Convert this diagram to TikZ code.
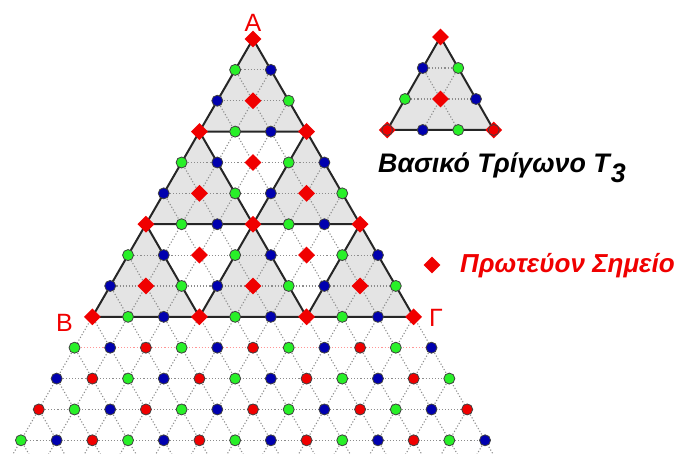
\documentclass[tikz,border=0pt]{standalone}
\usepackage{fontspec}
\setmainfont{Liberation Sans}
\usetikzlibrary{shapes.geometric}
\definecolor{dotgreen}{RGB}{40,240,40}
\definecolor{dotblue}{RGB}{0,0,175}
\definecolor{dotred}{RGB}{240,0,0}
\definecolor{shadegray}{RGB}{228,228,228}
\definecolor{gridgray}{RGB}{140,140,140}
\definecolor{pinkline}{RGB}{255,150,150}
\begin{document}
\begin{tikzpicture}[x=1pt,y=-1pt,
  gridline/.style={gridgray, line width=1.1pt, dash pattern=on 1.1pt off 2pt},
  pinkgrid/.style={pinkline, line width=1.1pt, dash pattern=on 1.1pt off 2pt},
  edge/.style={black!85, line width=2pt, line join=round},
  upfill/.style={fill=shadegray},
  dotbase/.style={circle, draw=black!75, line width=0.8pt, minimum size=11pt, inner sep=0pt},
  gdot/.style={dotbase, fill=dotgreen},
  bdot/.style={dotbase, fill=dotblue},
  rdot/.style={dotbase, fill=dotred},
  rdia/.style={diamond, fill=dotred, minimum size=17pt, inner sep=0pt},
  lbl/.style={text=dotred, inner sep=0pt, anchor=base, font=\fontsize{25}{30}\selectfont}
]
\useasboundingbox (0,0) rectangle (681,454);

% ---------- main lattice coordinates ----------
\foreach \n in {0,...,13}{
  \foreach \k in {0,...,\n}{
    \coordinate (p-\n-\k) at ({253+(\k-\n/2)*35.7},{39+\n*30.87});
  }
}
\foreach \k in {0,...,13}{
  \coordinate (eL-\k) at ({253+(\k-6.725)*35.7},{39+13.45*30.87});
  \coordinate (eR-\k) at ({253+(6.725-\k)*35.7},{39+13.45*30.87});
}

% ---------- shaded up-triangles ----------
\fill[upfill] (p-0-0) -- (p-3-0) -- (p-3-3) -- cycle;
\fill[upfill] (p-3-0) -- (p-6-0) -- (p-6-3) -- cycle;
\fill[upfill] (p-3-3) -- (p-6-3) -- (p-6-6) -- cycle;
\fill[upfill] (p-6-0) -- (p-9-0) -- (p-9-3) -- cycle;
\fill[upfill] (p-6-3) -- (p-9-3) -- (p-9-6) -- cycle;
\fill[upfill] (p-6-6) -- (p-9-6) -- (p-9-9) -- cycle;

% ---------- dotted lattice lines ----------
\foreach \n in {1,...,9,11,12,13}{
  \draw[gridline] (p-\n-0) -- (p-\n-\n);
}
\draw[pinkgrid] (p-10-0) -- (p-10-10);
\foreach \k in {0,...,13}{
  \draw[gridline] (p-\k-\k) -- (eL-\k);
  \draw[gridline] (p-\k-0) -- (eR-\k);
}

% ---------- solid edges ----------
\draw[edge] (p-0-0) -- (p-3-0) -- (p-3-3) -- cycle;
\draw[edge] (p-3-0) -- (p-6-0) -- (p-6-3) -- cycle;
\draw[edge] (p-3-3) -- (p-6-3) -- (p-6-6) -- cycle;
\draw[edge] (p-6-0) -- (p-9-0) -- (p-9-3) -- cycle;
\draw[edge] (p-6-3) -- (p-9-3) -- (p-9-6) -- cycle;
\draw[edge] (p-6-6) -- (p-9-6) -- (p-9-9) -- cycle;

% ---------- lattice points ----------
\foreach \n in {0,...,13}{
  \foreach \k in {0,...,\n}{
    \pgfmathtruncatemacro\c{mod(\n+\k,3)}
    \ifcase\c
      \ifnum\n<10
        \node[rdia] (d-\n-\k) at (p-\n-\k) {};
      \else
        \node[rdot] (d-\n-\k) at (p-\n-\k) {};
      \fi
    \or
      \node[gdot] (d-\n-\k) at (p-\n-\k) {};
    \or
      \node[bdot] (d-\n-\k) at (p-\n-\k) {};
    \fi
  }
}

% ---------- vertex labels ----------
\node[lbl] (lA) at (253,31.5) {Α};
\node[lbl] (lB) at (64.5,331.5) {Β};
\node[lbl] (lG) at (436,327) {Γ};

% ---------- basic triangle T3 ----------
\foreach \n in {0,...,3}{
  \foreach \k in {0,...,\n}{
    \coordinate (q-\n-\k) at ({440.5+(\k-\n/2)*35.5},{37+\n*31});
  }
}
\fill[upfill] (q-0-0) -- (q-3-0) -- (q-3-3) -- cycle;
\draw[gridline] (q-1-0) -- (q-1-1);
\draw[gridline] (q-2-0) -- (q-2-2);
\draw[gridline] (q-1-0) -- (q-3-2);
\draw[gridline] (q-1-1) -- (q-3-1);
\draw[edge] (q-0-0) -- (q-3-0) -- (q-3-3) -- cycle;
\node[rdia] (t-0-0) at (q-0-0) {};
\node[bdot] (t-1-0) at (q-1-0) {};
\node[gdot] (t-1-1) at (q-1-1) {};
\node[gdot] (t-2-0) at (q-2-0) {};
\node[rdia] (t-2-1) at (q-2-1) {};
\node[bdot] (t-2-2) at (q-2-2) {};
\node[rdia] (t-3-0a) at (q-3-0) {};
\node[rdot] (t-3-0) at (q-3-0) {};
\node[bdot] (t-3-1) at (q-3-1) {};
\node[gdot] (t-3-2) at (q-3-2) {};
\node[rdia] (t-3-3a) at (q-3-3) {};
\node[rdot] (t-3-3) at (q-3-3) {};

\node[anchor=base west, inner sep=0pt, font=\bfseries\itshape\fontsize{26.8}{30}\selectfont] (t3label) at (378,173) {Βασικό Τρίγωνο T\kern1pt\raisebox{-10pt}{3}};

% ---------- legend ----------
\node[rdia] (legdia) at (432,265) {};
\node[anchor=base west, inner sep=0pt, text=dotred, font=\bfseries\itshape\fontsize{26}{30}\selectfont] (legtext) at (460,273) {Πρωτεύον Σημείο};
\end{tikzpicture}
\end{document}
